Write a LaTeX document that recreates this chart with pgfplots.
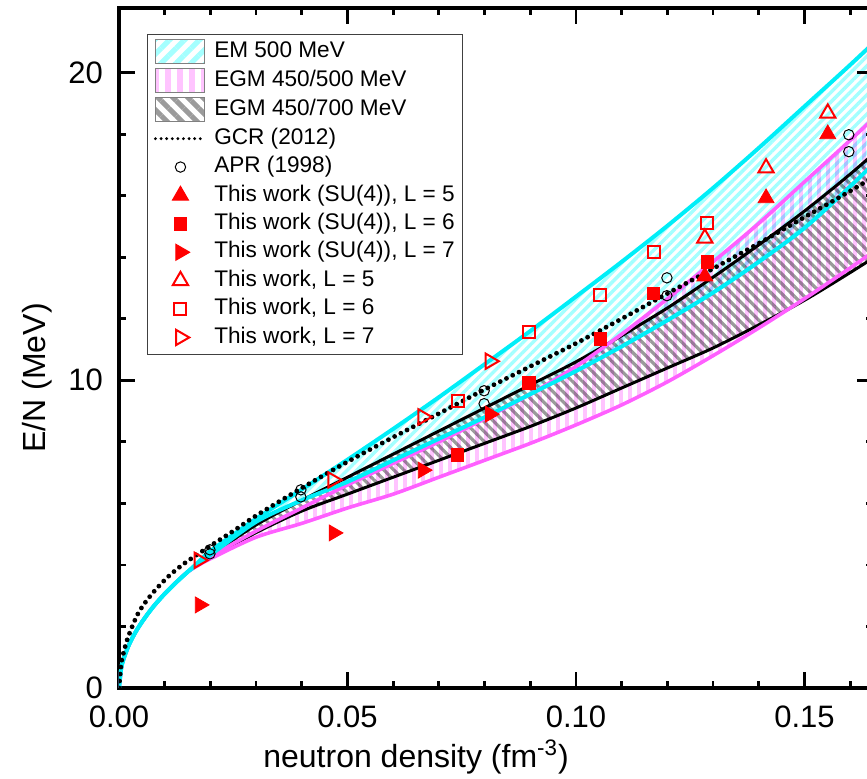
\documentclass[border=0pt]{standalone}
\usepackage{pgfplots}
\pgfplotsset{compat=1.18}
\usetikzlibrary{patterns.meta}
\usepackage{fontspec}
\setmainfont{Liberation Sans}

\definecolor{emline}{RGB}{0,238,248}
\definecolor{emhatch}{RGB}{165,255,255}
\definecolor{egmline}{RGB}{255,95,255}
\definecolor{egmhatch}{RGB}{255,196,255}
\definecolor{egmgrey}{RGB}{155,155,155}
\definecolor{mkred}{RGB}{255,0,0}

\begin{document}
\begin{tikzpicture}
\begin{axis}[
  scale only axis, width=377pt, height=340pt,
  xmin=0, xmax=0.165, ymin=0, ymax=22.1,
  axis line style={line width=1.6pt},
  tick align=inside,
  major tick length=8pt, minor tick length=3.5pt,
  tick style={black, line width=1.4pt},
  xtick={0,0.05,0.10,0.15}, xticklabels={0.00,0.05,0.10,0.15},
  minor xtick={0.01,0.02,0.03,0.04,0.06,0.07,0.08,0.09,0.11,0.12,0.13,0.14,0.16},
  ytick={0,10,20},
  minor ytick={2,4,6,8,12,14,16,18},
  /pgf/number format/assume math mode=true,
  tick label style={font=\fontsize{15.5}{18}\selectfont},
  yticklabel style={xshift=-4.5pt},
  xticklabel style={yshift=-5.5pt},
  xlabel={neutron density (fm\textsuperscript{-3})},
  ylabel={E/N (MeV)},
  xlabel style={font=\fontsize{16}{19}\selectfont, at={(axis description cs:0.394,-0.1015)}, anchor=center},
  ylabel style={font=\fontsize{16}{19}\selectfont, at={(axis description cs:-0.1088,0.456)}, anchor=center},
  legend style={at={(axis description cs:0.0371,0.9618)}, anchor=north west,
    draw=black!75, line width=0.5pt, fill=white,
    font=\fontsize{11.3}{13}\selectfont,
    inner xsep=2.7pt, inner ysep=1.2pt,
    nodes={inner xsep=1pt, inner ysep=2pt, text height=7.9pt, text depth=2.3pt},
    /tikz/every odd column/.append style={column sep=2.6pt}},
  legend cell align=left,
]

% ---------- legend entries ----------
\addlegendimage{legend image code/.code={
  \draw[draw=gray, line width=0.4pt, pattern={Lines[angle=45,distance=5.3pt,line width=2.6pt]}, pattern color=emhatch] (0pt,-6pt) rectangle (24.5pt,6pt);}}
\addlegendentry{EM 500 MeV}
\addlegendimage{legend image code/.code={
  \draw[draw=gray, line width=0.4pt, pattern={Lines[angle=90,distance=6pt,line width=2.6pt]}, pattern color=egmhatch] (0pt,-6pt) rectangle (24.5pt,6pt);}}
\addlegendentry{EGM 450/500 MeV}
\addlegendimage{legend image code/.code={
  \draw[draw=gray, line width=0.4pt, pattern={Lines[angle=-45,distance=5.3pt,line width=2.6pt]}, pattern color=egmgrey] (0pt,-6pt) rectangle (24.5pt,6pt);}}
\addlegendentry{EGM 450/700 MeV}
\addlegendimage{legend image code/.code={
  \draw[black, line width=1.6pt, line cap=round, dash pattern=on 0pt off 2.8pt] (0pt,0pt) -- (25pt,0pt);}}
\addlegendentry{GCR (2012)}
\addlegendimage{legend image code/.code={
  \draw[black, line width=0.5pt] plot[mark=o, mark size=2.6pt] coordinates {(12.5pt,0pt)};}}
\addlegendentry{APR (1998)}
\addlegendimage{legend image code/.code={
  \draw[mkred, fill=mkred] plot[mark=triangle*, mark size=4.6pt] coordinates {(12.5pt,0pt)};}}
\addlegendentry{This work (SU(4)), L = 5}
\addlegendimage{legend image code/.code={
  \draw[mkred, fill=mkred] plot[mark=square*, mark size=3.1pt] coordinates {(12.5pt,0pt)};}}
\addlegendentry{This work (SU(4)), L = 6}
\addlegendimage{legend image code/.code={
  \draw[mkred, fill=mkred] plot[mark=triangle*, mark size=4.6pt, mark options={rotate=-90}] coordinates {(12.5pt,0pt)};}}
\addlegendentry{This work (SU(4)), L = 7}
\addlegendimage{legend image code/.code={
  \draw[mkred, line width=1pt] plot[mark=triangle, mark size=4.4pt] coordinates {(12.5pt,0pt)};}}
\addlegendentry{This work, L = 5}
\addlegendimage{legend image code/.code={
  \draw[mkred, line width=1pt] plot[mark=square, mark size=3pt] coordinates {(12.5pt,0pt)};}}
\addlegendentry{This work, L = 6}
\addlegendimage{legend image code/.code={
  \draw[mkred, line width=1pt] plot[mark=triangle, mark size=4.4pt, mark options={rotate=-90}] coordinates {(12.5pt,0pt)};}}
\addlegendentry{This work, L = 7}

% ---------- EGM 450/700 MeV band: hatch, then its black bounds ----------
\addplot[forget plot, smooth, draw=none, blend mode=multiply,
  pattern={Lines[angle=-45,distance=3.5pt,line width=1.6pt]}, pattern color=egmgrey]
  coordinates {(0.015,3.77)(0.0175,4.05)(0.02,4.31)(0.03,5.3)(0.04,6.1)(0.05,6.85)(0.06,7.6)(0.07,8.35)(0.08,9.1)(0.09,9.85)(0.10,10.6)(0.11,11.45)(0.12,12.35)(0.13,13.35)(0.14,14.4)(0.15,15.5)(0.16,16.7)(0.17,18.0)(0.18,19.35)
  (0.18,15.45)(0.17,14.45)(0.16,13.5)(0.15,12.6)(0.14,11.8)(0.13,11.05)(0.12,10.4)(0.11,9.75)(0.10,9.1)(0.09,8.5)(0.08,7.95)(0.07,7.4)(0.06,6.85)(0.05,6.3)(0.04,5.75)(0.03,5.05)(0.02,4.24)(0.0175,4.02)(0.015,3.77)};
\addplot[forget plot, smooth, black, line width=1.5pt]
  coordinates {(0,0)(0.0005,0.65)(0.001,0.94)(0.002,1.34)(0.003,1.65)(0.004,1.91)(0.005,2.14)(0.0065,2.45)(0.008,2.73)(0.01,3.06)(0.0125,3.43)(0.015,3.77)(0.0175,4.05)(0.02,4.31)(0.03,5.3)(0.04,6.1)(0.05,6.85)(0.06,7.6)(0.07,8.35)(0.08,9.1)(0.09,9.85)(0.10,10.6)(0.11,11.45)(0.12,12.35)(0.13,13.35)(0.14,14.4)(0.15,15.5)(0.16,16.7)(0.17,18.0)(0.18,19.35)};
\addplot[forget plot, smooth, black, line width=1.5pt]
  coordinates {(0,0)(0.0005,0.65)(0.001,0.94)(0.002,1.34)(0.003,1.65)(0.004,1.91)(0.005,2.14)(0.0065,2.45)(0.008,2.73)(0.01,3.06)(0.0125,3.43)(0.015,3.77)(0.0175,4.02)(0.02,4.24)(0.03,5.05)(0.04,5.75)(0.05,6.3)(0.06,6.85)(0.07,7.4)(0.08,7.95)(0.09,8.5)(0.10,9.1)(0.11,9.75)(0.12,10.4)(0.13,11.05)(0.14,11.8)(0.15,12.6)(0.16,13.5)(0.17,14.45)(0.18,15.45)};

% ---------- EGM 450/500 MeV hatch ----------
\addplot[forget plot, smooth, draw=none, blend mode=multiply,
  pattern={Lines[angle=90,distance=4.5pt,line width=2pt]}, pattern color=egmhatch]
  coordinates {(0.015,3.77)(0.0175,4.03)(0.02,4.27)(0.03,5.1)(0.04,5.85)(0.05,6.6)(0.06,7.3)(0.07,8.0)(0.08,8.75)(0.09,9.55)(0.10,10.45)(0.11,11.5)(0.12,12.65)(0.13,13.85)(0.14,15.1)(0.15,16.45)(0.16,17.8)(0.17,19.2)(0.18,20.6)
  (0.18,15.8)(0.17,14.7)(0.16,13.65)(0.15,12.65)(0.14,11.7)(0.13,10.8)(0.12,9.95)(0.11,9.2)(0.10,8.55)(0.09,7.95)(0.08,7.4)(0.07,6.85)(0.06,6.3)(0.05,5.85)(0.04,5.35)(0.03,4.9)(0.02,4.2)(0.0175,4.0)(0.015,3.77)};

% ---------- EM 500 MeV hatch ----------
\addplot[forget plot, smooth, draw=none, blend mode=multiply,
  pattern={Lines[angle=45,distance=3.4pt,line width=1.7pt]}, pattern color=emhatch]
  coordinates {(0.015,3.77)(0.0175,4.11)(0.02,4.45)(0.03,5.5)(0.04,6.45)(0.05,7.42)(0.06,8.42)(0.07,9.45)(0.08,10.52)(0.09,11.6)(0.10,12.72)(0.11,13.85)(0.12,15.02)(0.13,16.25)(0.14,17.55)(0.15,18.9)(0.16,20.25)(0.17,21.65)(0.18,23.1)
  (0.18,19.2)(0.17,17.75)(0.16,16.3)(0.15,14.95)(0.14,13.85)(0.13,12.85)(0.12,11.95)(0.11,11.1)(0.10,10.3)(0.09,9.55)(0.08,8.8)(0.07,8.1)(0.06,7.4)(0.05,6.7)(0.04,6.1)(0.03,5.4)(0.02,4.32)(0.0175,4.05)(0.015,3.77)};

% ---------- EGM 450/500 MeV bounds ----------
\addplot[forget plot, smooth, egmline, line width=1.8pt]
  coordinates {(0,0)(0.0005,0.65)(0.001,0.94)(0.002,1.34)(0.003,1.65)(0.004,1.91)(0.005,2.14)(0.0065,2.45)(0.008,2.73)(0.01,3.06)(0.0125,3.43)(0.015,3.77)(0.0175,4.03)(0.02,4.27)(0.03,5.1)(0.04,5.85)(0.05,6.6)(0.06,7.3)(0.07,8.0)(0.08,8.75)(0.09,9.55)(0.10,10.45)(0.11,11.5)(0.12,12.65)(0.13,13.85)(0.14,15.1)(0.15,16.45)(0.16,17.8)(0.17,19.2)(0.18,20.6)};
\addplot[forget plot, smooth, egmline, line width=1.8pt]
  coordinates {(0,0)(0.0005,0.65)(0.001,0.94)(0.002,1.34)(0.003,1.65)(0.004,1.91)(0.005,2.14)(0.0065,2.45)(0.008,2.73)(0.01,3.06)(0.0125,3.43)(0.015,3.77)(0.0175,4.0)(0.02,4.2)(0.03,4.9)(0.04,5.35)(0.05,5.85)(0.06,6.3)(0.07,6.85)(0.08,7.4)(0.09,7.95)(0.10,8.55)(0.11,9.2)(0.12,9.95)(0.13,10.8)(0.14,11.7)(0.15,12.65)(0.16,13.65)(0.17,14.7)(0.18,15.8)};

% ---------- EM 500 MeV bounds ----------
\addplot[forget plot, smooth, emline, line width=2pt]
  coordinates {(0,0)(0.0005,0.65)(0.001,0.94)(0.002,1.34)(0.003,1.65)(0.004,1.91)(0.005,2.14)(0.0065,2.45)(0.008,2.73)(0.01,3.06)(0.0125,3.43)(0.015,3.77)(0.0175,4.11)(0.02,4.45)(0.03,5.5)(0.04,6.45)(0.05,7.42)(0.06,8.42)(0.07,9.45)(0.08,10.52)(0.09,11.6)(0.10,12.72)(0.11,13.85)(0.12,15.02)(0.13,16.25)(0.14,17.55)(0.15,18.9)(0.16,20.25)(0.17,21.65)(0.18,23.1)};
\addplot[forget plot, smooth, emline, line width=2pt]
  coordinates {(0,0)(0.0005,0.65)(0.001,0.94)(0.002,1.34)(0.003,1.65)(0.004,1.91)(0.005,2.14)(0.0065,2.45)(0.008,2.73)(0.01,3.06)(0.0125,3.43)(0.015,3.77)(0.0175,4.05)(0.02,4.32)(0.03,5.4)(0.04,6.1)(0.05,6.7)(0.06,7.4)(0.07,8.1)(0.08,8.8)(0.09,9.55)(0.10,10.3)(0.11,11.1)(0.12,11.95)(0.13,12.85)(0.14,13.85)(0.15,14.95)(0.16,16.3)(0.17,17.75)(0.18,19.2)};

% ---------- GCR (2012) ----------
\addplot[forget plot, smooth, black, line width=2.4pt, line cap=round, dash pattern=on 0pt off 3.5pt]
  coordinates {(0,0)(0.0005,0.8)(0.001,1.15)(0.002,1.66)(0.0042,2.43)(0.007,3.02)(0.0107,3.61)(0.0144,4.06)(0.02,4.62)(0.025,5.1)(0.03,5.6)(0.04,6.5)(0.05,7.35)(0.06,8.15)(0.07,8.92)(0.08,9.7)(0.09,10.45)(0.10,11.2)(0.11,12.0)(0.12,12.82)(0.13,13.63)(0.14,14.45)(0.15,15.3)(0.16,16.15)(0.17,17.05)(0.18,17.95)};

% ---------- APR (1998) ----------
\addplot[forget plot, only marks, mark=o, mark size=2.6pt, black, line width=0.5pt]
  coordinates {(0.0199,4.49)(0.0199,4.36)(0.0398,6.44)(0.0398,6.21)(0.0799,9.66)(0.0799,9.24)(0.1199,13.33)(0.1199,12.75)(0.1597,17.98)(0.1597,17.43)};

% ---------- lattice results ----------
\addplot[forget plot, only marks, mark=triangle*, mark size=4.6pt, mkred, fill=mkred]
  coordinates {(0.1282,13.38)(0.1416,15.92)(0.1551,18.0)};
\addplot[forget plot, only marks, mark=square*, mark size=3.1pt, mkred, fill=mkred]
  coordinates {(0.0741,7.58)(0.0897,9.92)(0.1053,11.35)(0.1170,12.82)(0.1287,13.85)};
\addplot[forget plot, only marks, mark=triangle*, mark size=4.6pt, mkred, fill=mkred, mark options={rotate=-90}]
  coordinates {(0.0177,2.7)(0.0470,5.04)(0.0665,7.08)(0.0812,8.9)};
\addplot[forget plot, only marks, mark=triangle, mark size=4.4pt, mkred, line width=1pt]
  coordinates {(0.1282,14.62)(0.1416,16.9)(0.1551,18.68)};
\addplot[forget plot, only marks, mark=square, mark size=3pt, mkred, line width=1pt]
  coordinates {(0.0741,9.33)(0.0897,11.56)(0.1053,12.78)(0.1170,14.18)(0.1287,15.12)};
\addplot[forget plot, only marks, mark=triangle, mark size=4.4pt, mkred, line width=1pt, mark options={rotate=-90}]
  coordinates {(0.0175,4.15)(0.0468,6.76)(0.0665,8.81)(0.0812,10.62)};

\end{axis}
\pgfresetboundingbox
\path[use as bounding box] (-59.5pt,-45.5pt) rectangle (374pt,344pt);
\end{tikzpicture}
\end{document}
